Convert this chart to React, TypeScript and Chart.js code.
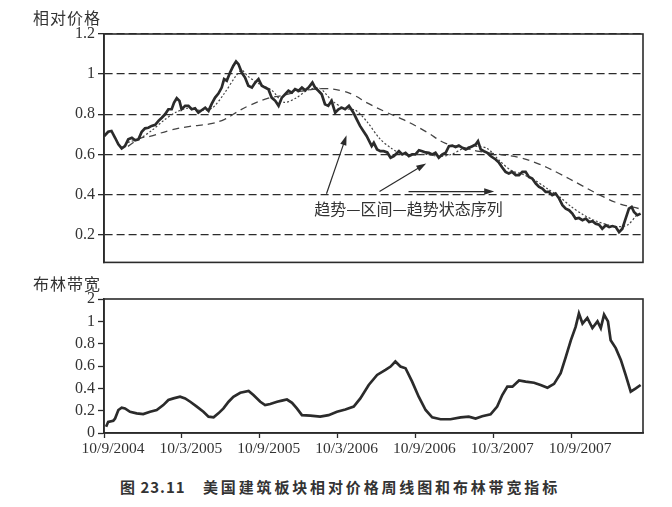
import { useEffect, useRef } from "react";
import { Chart, registerables } from "chart.js";

Chart.register(...registerables);

// ---------- data ----------
const weekTicks = [0, 26, 52, 78, 104, 130, 156];
const weekTickLabels = ["10/9/2004", "10/3/2005", "10/9/2005", "10/3/2006", "10/9/2006", "10/3/2007", "10/9/2007"];
const weekMax = 180;

const priceTicks = [0.2, 0.4, 0.6, 0.8, 1, 1.2];
const priceTickLabels = ["0.2", "0.4", "0.6", "0.8", "1", "1.2"];
const bandTicks = [0, 0.2, 0.4, 0.6, 0.8, 1, 1.2];
const bandTickLabels = ["0", "0.2", "0.4", "0.6", "0.8", "1", "2"];

// relative price, weekly (week index, value)
const priceSeries: [number, number][] = [
  [0, 0.69], [1.4, 0.713], [2.5, 0.717], [3.7, 0.683], [4.8, 0.65], [5.9, 0.63], [7, 0.642], [8.1, 0.675],
  [9.3, 0.683], [10.4, 0.67], [11.5, 0.675], [12.6, 0.713], [13.7, 0.73], [14.8, 0.733], [15.9, 0.742],
  [17.1, 0.747], [18.2, 0.767], [19.3, 0.783], [20.4, 0.8], [21.5, 0.825], [22.6, 0.825], [23.4, 0.858],
  [24.3, 0.88], [25.2, 0.867], [25.9, 0.825], [27.1, 0.842], [28.2, 0.842], [29.3, 0.825], [30.4, 0.83],
  [31.5, 0.808], [32.6, 0.82], [33.8, 0.833], [34.9, 0.817], [36, 0.853], [37.1, 0.883], [38.2, 0.903],
  [39.3, 0.933], [40.1, 0.975], [41, 0.967], [42.1, 1.008], [43.2, 1.042], [44.1, 1.063], [44.9, 1.05],
  [46, 1.008], [47.1, 0.983], [48.2, 0.942], [49.4, 0.933], [50.5, 0.958], [51.6, 0.975], [52.7, 0.942],
  [53.8, 0.933], [54.9, 0.925], [56, 0.883], [57.2, 0.867], [58.3, 0.842], [59.4, 0.883], [60.5, 0.9],
  [61.6, 0.917], [62.7, 0.908], [63.8, 0.925], [65, 0.917], [66.1, 0.933], [67.2, 0.92], [68.3, 0.933],
  [69.6, 0.958], [70.5, 0.933], [71.6, 0.917], [72.7, 0.9], [73.8, 0.85], [74.9, 0.842], [76, 0.867],
  [77.2, 0.808], [78.3, 0.825], [79.4, 0.833], [80.5, 0.825], [81.8, 0.842], [83.3, 0.808], [84.4, 0.775],
  [85.5, 0.742], [86.6, 0.717], [87.7, 0.692], [89.4, 0.642], [90.1, 0.658], [91.2, 0.625], [92.3, 0.616],
  [93.4, 0.616], [94.6, 0.61], [95.7, 0.584], [96.8, 0.592], [98.5, 0.616], [99.6, 0.6], [100.7, 0.608],
  [101.8, 0.592], [102.9, 0.6], [104, 0.6], [105.2, 0.621], [106.3, 0.616], [107.4, 0.61], [108.5, 0.608],
  [109.6, 0.6], [110.7, 0.608], [111.8, 0.584], [113, 0.6], [114.1, 0.608], [115.2, 0.641], [116.3, 0.644],
  [117.4, 0.637], [118.5, 0.644], [119.7, 0.633], [120.8, 0.625], [121.9, 0.633], [123, 0.641], [124.1, 0.649],
  [124.9, 0.666], [125.8, 0.625], [126.9, 0.616], [128, 0.608], [129.1, 0.592], [130.8, 0.575], [131.9, 0.559],
  [133, 0.535], [134.1, 0.513], [135.2, 0.505], [136.3, 0.513], [137.5, 0.497], [138.6, 0.497], [139.7, 0.513],
  [140.8, 0.513], [141.9, 0.488], [143, 0.48], [144.2, 0.455], [145.3, 0.438], [146.4, 0.43], [147.5, 0.413],
  [148.6, 0.413], [149.7, 0.397], [150.8, 0.405], [152, 0.38], [153.1, 0.347], [154.2, 0.33], [155.3, 0.322],
  [156.4, 0.305], [157.5, 0.28], [158.6, 0.283], [159.8, 0.272], [160.9, 0.28], [162, 0.263], [163.1, 0.267],
  [164.2, 0.255], [165.3, 0.25], [166.4, 0.23], [167.6, 0.247], [168.7, 0.238], [169.8, 0.243], [170.9, 0.238],
  [172, 0.213], [173.1, 0.23], [174.2, 0.28], [175.3, 0.33], [176.2, 0.338], [177, 0.313], [178.1, 0.297],
  [179.2, 0.305],
];

// short moving average (dotted)
const shortMaSeries: [number, number][] = [
  [8, 0.66], [12, 0.68], [16, 0.72], [20, 0.77], [24, 0.81], [28, 0.83], [32, 0.82], [36, 0.83],
  [40, 0.9], [44, 0.99], [46, 1.02], [48, 0.99], [52, 0.95], [56, 0.92], [60, 0.86], [64, 0.88],
  [68, 0.92], [72, 0.93], [76, 0.87], [80, 0.83], [84, 0.82], [88, 0.76], [92, 0.68], [96, 0.63],
  [100, 0.6], [104, 0.6], [108, 0.6], [112, 0.59], [116, 0.6], [120, 0.63], [124, 0.64], [128, 0.63],
  [132, 0.57], [136, 0.52], [140, 0.5], [144, 0.47], [148, 0.43], [152, 0.39], [156, 0.34], [160, 0.3],
  [164, 0.27], [168, 0.25], [172, 0.24], [175, 0.25], [178, 0.3],
];

// long moving average (dashed)
const longMaSeries: [number, number][] = [
  [8, 0.64], [12, 0.68], [15.3, 0.69], [22, 0.72], [28.7, 0.74], [35.3, 0.752], [40.3, 0.775],
  [43.8, 0.806], [48, 0.84], [54.9, 0.88], [60, 0.895], [66, 0.915], [73.8, 0.928], [79.4, 0.917],
  [83.9, 0.892], [87.7, 0.858], [94.3, 0.81], [100.2, 0.772], [107.7, 0.712], [114.1, 0.655], [121, 0.63],
  [125.3, 0.615], [132, 0.6], [138.7, 0.585], [145.3, 0.552], [152, 0.505], [158.7, 0.452], [165.3, 0.4],
  [172, 0.355], [178.7, 0.33],
];

// Bollinger bandwidth
const bandSeries: [number, number][] = [
  [0.7, 0.056], [1.4, 0.1], [3.1, 0.11], [3.7, 0.13], [4.8, 0.206], [5.9, 0.227], [7, 0.22], [8.7, 0.19],
  [10.9, 0.176], [13.1, 0.17], [15.4, 0.19], [17.6, 0.206], [19.8, 0.25], [21.5, 0.296], [23.2, 0.31],
  [25.4, 0.325], [27.1, 0.31], [28.8, 0.28], [31, 0.236], [33.2, 0.19], [34.9, 0.146], [36.6, 0.14],
  [38.2, 0.176], [39.9, 0.22], [41.6, 0.28], [43.2, 0.325], [45.5, 0.36], [48.3, 0.377], [49.9, 0.34],
  [52.2, 0.28], [53.8, 0.25], [55.5, 0.26], [57.8, 0.28], [59.4, 0.29], [61.1, 0.3], [62.8, 0.27],
  [64.4, 0.22], [66.1, 0.16], [68.9, 0.155], [72.2, 0.146], [75, 0.16], [77.8, 0.19], [80.6, 0.21],
  [83.4, 0.236], [85.6, 0.31], [88.4, 0.43], [91.2, 0.52], [94, 0.565], [95.7, 0.595], [97.3, 0.64],
  [99, 0.595], [100.7, 0.58], [102.9, 0.46], [105.1, 0.325], [107.4, 0.206], [109.6, 0.14], [112.4, 0.123],
  [115.7, 0.123], [119.1, 0.14], [121.8, 0.146], [124.1, 0.13], [126.3, 0.15], [129.1, 0.167], [131.3, 0.236],
  [133, 0.34], [134.7, 0.415], [136.4, 0.415], [138.6, 0.47], [140.8, 0.46], [143.6, 0.45], [145.8, 0.43],
  [148.1, 0.405], [150.3, 0.44], [152.5, 0.535], [154.2, 0.68], [155.9, 0.83], [157.5, 0.95], [158.6, 1.07],
  [159.8, 0.98], [161.4, 1.03], [163.1, 0.94], [164.8, 1.0], [165.9, 0.94], [167, 1.06], [168.3, 1.0],
  [169.2, 0.83], [170.9, 0.76], [172.6, 0.655], [174.2, 0.52], [175.9, 0.37], [177.6, 0.4], [179.2, 0.43],
];

// annotation (in data coordinates)
const annotationText = "趋势—区间—趋势状态序列";
const annotationAnchor: [number, number] = [101.7, 0.33];
const arrowLines: [number, number, number, number][] = [
  [74.3, 0.404, 81, 0.695],
  [92, 0.415, 107.6, 0.555],
  [101.7, 0.415, 130.3, 0.415],
];

// ---------- styling ----------
const INK = "#2b2b2b";
const tickFont = { family: "'Liberation Serif', 'Times New Roman', serif", size: 15.5 };
const yTickFont = { family: "'Liberation Serif', 'Times New Roman', serif", size: 16 };
const CJK = "'Noto Sans CJK SC', 'Noto Sans', sans-serif";

const toXY = (s: [number, number][]) => s.map(([x, y]) => ({ x, y }));

const boxPlugin = {
  id: "frameBox",
  afterDraw(chart: any) {
    const { ctx, chartArea } = chart;
    const { left, top, right, bottom } = chartArea;
    ctx.save();
    ctx.strokeStyle = INK;
    ctx.lineWidth = 1.6;
    ctx.strokeRect(left, top, right - left, bottom - top);
    ctx.restore();
  },
};

const annotationPlugin = {
  id: "trendAnnot",
  afterDatasetsDraw(chart: any) {
    const { ctx, scales } = chart;
    const xs = scales.x;
    const ys = scales.y;
    ctx.save();
    ctx.strokeStyle = INK;
    ctx.fillStyle = INK;
    ctx.lineWidth = 1.2;
    for (const [x1, y1, x2, y2] of arrowLines) {
      const px1 = xs.getPixelForValue(x1);
      const py1 = ys.getPixelForValue(y1);
      const px2 = xs.getPixelForValue(x2);
      const py2 = ys.getPixelForValue(y2);
      const ang = Math.atan2(py2 - py1, px2 - px1);
      const head = 10;
      const hw = 3.2;
      ctx.beginPath();
      ctx.moveTo(px1, py1);
      ctx.lineTo(px2 - Math.cos(ang) * head * 0.8, py2 - Math.sin(ang) * head * 0.8);
      ctx.stroke();
      ctx.beginPath();
      ctx.moveTo(px2, py2);
      ctx.lineTo(px2 - Math.cos(ang) * head - Math.sin(ang) * hw, py2 - Math.sin(ang) * head + Math.cos(ang) * hw);
      ctx.lineTo(px2 - Math.cos(ang) * head + Math.sin(ang) * hw, py2 - Math.sin(ang) * head - Math.cos(ang) * hw);
      ctx.closePath();
      ctx.fill();
    }
    ctx.font = `16px ${CJK}`;
    ctx.textAlign = "center";
    ctx.textBaseline = "middle";
    ctx.fillStyle = "#333";
    ctx.fillText(annotationText, xs.getPixelForValue(annotationAnchor[0]), ys.getPixelForValue(annotationAnchor[1]));
    ctx.restore();
  },
};

function PriceChart() {
  const ref = useRef<HTMLCanvasElement | null>(null);
  useEffect(() => {
    if (!ref.current) return;
    const chart = new Chart(ref.current, {
      type: "line",
      data: {
        datasets: [
          { data: toXY(priceSeries), borderColor: INK, borderWidth: 2.7, pointRadius: 0, tension: 0, order: 0 },
          { data: toXY(shortMaSeries), borderColor: "#444", borderWidth: 1.2, borderDash: [2, 2], pointRadius: 0, tension: 0.3, order: 1 },
          { data: toXY(longMaSeries), borderColor: "#444", borderWidth: 1.3, borderDash: [7, 5], pointRadius: 0, tension: 0.4, order: 2 },
        ],
      },
      options: {
        animation: false,
        responsive: false,
        events: [],
        layout: { padding: { top: 34, right: 29, bottom: 10, left: 0 } },
        plugins: { legend: { display: false }, tooltip: { enabled: false } },
        scales: {
          x: { type: "linear", min: 0, max: weekMax, display: false },
          y: {
            type: "linear",
            min: 0.062,
            max: 1.2,
            afterBuildTicks: (s: any) => { s.ticks = priceTicks.map((v) => ({ value: v })); },
            afterFit: (s: any) => { s.width = 104; },
            ticks: {
              font: yTickFont,
              color: "#333",
              padding: 3,
              autoSkip: false,
              callback: (_v: any, i: number) => priceTickLabels[i],
            },
            grid: { color: INK, lineWidth: 1.3, tickLength: 6, tickColor: INK, drawTicks: true },
            border: { display: true, color: INK, width: 1.6, dash: [8, 4] },
          },
        },
      },
      plugins: [annotationPlugin, boxPlugin],
    } as any);
    return () => chart.destroy();
  }, []);
  return <canvas ref={ref} width={672} height={275} style={{ position: "absolute", left: 0, top: 0, width: 672, height: 275 }} />;
}

function BandChart() {
  const ref = useRef<HTMLCanvasElement | null>(null);
  useEffect(() => {
    if (!ref.current) return;
    const chart = new Chart(ref.current, {
      type: "line",
      data: {
        datasets: [{ data: toXY(bandSeries), borderColor: INK, borderWidth: 2.7, pointRadius: 0, tension: 0 }],
      },
      options: {
        animation: false,
        responsive: false,
        events: [],
        layout: { padding: { top: 24, right: 29, bottom: 2, left: 0 } },
        plugins: { legend: { display: false }, tooltip: { enabled: false } },
        scales: {
          x: {
            type: "linear",
            min: 0,
            max: weekMax,
            afterBuildTicks: (s: any) => { s.ticks = weekTicks.map((v) => ({ value: v })); },
            afterFit: (s: any) => { s.height = 30; },
            ticks: {
              font: tickFont,
              color: "#333",
              padding: 2,
              maxRotation: 0,
              autoSkip: false,
              labelOffset: 9,
              callback: (_v: any, i: number) => weekTickLabels[i],
            },
            grid: { drawOnChartArea: false, drawTicks: true, tickLength: 5, tickColor: INK, tickWidth: 1.3 },
            border: { display: true, color: INK, width: 1.6 },
          },
          y: {
            type: "linear",
            min: 0,
            max: 1.2,
            afterBuildTicks: (s: any) => { s.ticks = bandTicks.map((v) => ({ value: v })); },
            afterFit: (s: any) => { s.width = 104; },
            ticks: {
              font: yTickFont,
              color: "#333",
              padding: 3,
              autoSkip: false,
              callback: (_v: any, i: number) => bandTickLabels[i],
            },
            grid: { drawOnChartArea: false, drawTicks: true, tickLength: 6, tickColor: INK, tickWidth: 1.3 },
            border: { display: true, color: INK, width: 1.6 },
          },
        },
      },
      plugins: [boxPlugin],
    } as any);
    return () => chart.destroy();
  }, []);
  return <canvas ref={ref} width={672} height={190} style={{ position: "absolute", left: 0, top: 275, width: 672, height: 190 }} />;
}

export default function App() {
  return (
    <div style={{ position: "absolute", left: 0, top: 0, width: 672, height: 507, background: "#fff", overflow: "hidden" }}>
      <PriceChart />
      <BandChart />
      <div style={{ position: "absolute", left: 33, top: 7, fontFamily: CJK, fontSize: 16, color: "#333", letterSpacing: 1, lineHeight: "20px" }}>相对价格</div>
      <div style={{ position: "absolute", left: 33, top: 273, fontFamily: CJK, fontSize: 16, color: "#333", letterSpacing: 1, lineHeight: "20px" }}>布林带宽</div>
      <div style={{ position: "absolute", left: 120, top: 477, fontFamily: CJK, fontSize: 15, fontWeight: 700, color: "#333", lineHeight: "20px", whiteSpace: "nowrap", letterSpacing: 1 }}>图 23.11</div>
      <div style={{ position: "absolute", left: 203, top: 477, fontFamily: CJK, fontSize: 15, fontWeight: 700, color: "#333", lineHeight: "20px", whiteSpace: "nowrap", letterSpacing: 2.85 }}>美国建筑板块相对价格周线图和布林带宽指标</div>
    </div>
  );
}
